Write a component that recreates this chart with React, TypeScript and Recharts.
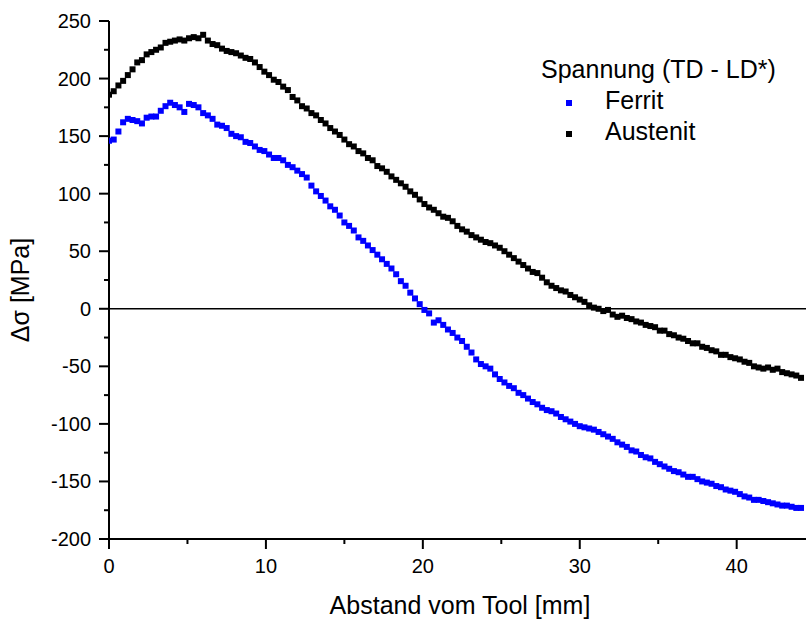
import { ReferenceLine, Scatter, ScatterChart, XAxis, YAxis } from 'recharts';

// Messpunkte alle 0,3 mm ab 0 mm
const abstandSchritt = 0.3;

const ferrit = [
  146, 147, 154, 162, 165, 164, 163, 161, 166, 167,
  167, 172, 176, 179, 177, 175, 171, 178, 177, 175,
  170, 168, 165, 160, 159, 157, 152, 150, 149, 145,
  144, 141, 138, 137, 134, 131, 131, 129, 125, 123,
  120, 117, 114, 107, 102, 98, 94, 89, 86, 81,
  75, 72, 68, 62, 59, 55, 51, 47, 43, 39,
  35, 30, 24, 20, 14, 9, 4, -1, -4, -12,
  -10, -14, -18, -21, -25, -28, -33, -38, -44, -48,
  -50, -52, -57, -61, -64, -67, -69, -73, -75, -78,
  -81, -83, -86, -88, -89, -91, -94, -96, -98, -100,
  -102, -103, -104, -105, -107, -109, -111, -113, -116, -118,
  -120, -123, -124, -127, -129, -130, -133, -135, -137, -139,
  -141, -142, -144, -146, -146, -148, -150, -151, -152, -154,
  -155, -157, -158, -159, -161, -163, -164, -166, -166, -167,
  -168, -169, -170, -171, -171, -172, -173, -173,
];

const austenit = [
  186, 189, 194, 198, 203, 208, 214, 216, 221, 223,
  225, 227, 231, 232, 233, 234, 233, 235, 236, 235,
  238, 233, 230, 229, 226, 224, 223, 222, 220, 218,
  217, 214, 210, 206, 203, 199, 197, 193, 190, 184,
  181, 176, 174, 170, 168, 164, 161, 157, 154, 151,
  147, 143, 141, 137, 135, 131, 129, 124, 122, 119,
  115, 112, 109, 106, 102, 99, 95, 91, 88, 86,
  83, 80, 79, 76, 72, 69, 67, 64, 62, 60,
  58, 57, 55, 53, 50, 47, 44, 41, 38, 35,
  32, 31, 27, 23, 20, 18, 16, 15, 12, 10,
  8, 6, 3, 1, 0, -2, -1, -5, -7, -6,
  -8, -9, -11, -12, -14, -15, -16, -19, -19, -22,
  -23, -25, -26, -28, -30, -30, -33, -34, -36, -37,
  -40, -40, -42, -43, -44, -46, -47, -50, -51, -52,
  -51, -53, -52, -55, -56, -57, -58, -60,
];

const xTicks = [0, 5, 10, 15, 20, 25, 30, 35, 40];
const xLabels = [0, 10, 20, 30, 40];
const yTicks = [-200, -175, -150, -125, -100, -75, -50, -25, 0, 25, 50, 75, 100, 125, 150, 175, 200, 225, 250];
const yLabels = [-200, -150, -100, -50, 0, 50, 100, 150, 200, 250];

const xDomain: [number, number] = [0, 44.8];
const yDomain: [number, number] = [-200, 250];

const FONT = '"Liberation Sans", Arial, sans-serif';

const toPoints = (values: number[]) =>
  values.map((v, i) => ({ abstand: +(i * abstandSchritt).toFixed(1), spannung: v }));

const ferritData = toPoints(ferrit);
const austenitData = toPoints(austenit);

function LeftTick({ x, y, payload }: any) {
  const major = yLabels.includes(payload.value);
  return (
    <g>
      <line x1={x - (major ? 10 : 5)} x2={x} y1={y} y2={y} stroke="#000" strokeWidth={2} />
      {major && (
        <text x={x - 18} y={y} dy="0.35em" textAnchor="end" fontSize={20} fontFamily={FONT} fill="#000">
          {payload.value}
        </text>
      )}
    </g>
  );
}

function RightTick({ x, y, payload }: any) {
  const major = yLabels.includes(payload.value);
  return <line x1={x} x2={x - (major ? 10 : 5)} y1={y} y2={y} stroke="#000" strokeWidth={2} />;
}

function BottomTick({ x, y, payload }: any) {
  const major = xLabels.includes(payload.value);
  return (
    <g>
      <line x1={x} x2={x} y1={y} y2={y + (major ? 10 : 5)} stroke="#000" strokeWidth={2} />
      {major && (
        <text x={x} y={y + 34} textAnchor="middle" fontSize={20} fontFamily={FONT} fill="#000">
          {payload.value}
        </text>
      )}
    </g>
  );
}

function TopTick({ x, y, payload }: any) {
  const major = xLabels.includes(payload.value);
  return <line x1={x} x2={x} y1={y} y2={y + (major ? 10 : 5)} stroke="#000" strokeWidth={2} />;
}

const square = (color: string) => (props: any) =>
  <rect x={props.cx - 3} y={props.cy - 3} width={6} height={6} fill={color} />;

export default function App() {
  return (
    <div style={{ position: 'relative', width: 806, height: 621, overflow: 'hidden', background: '#fff' }}>
      <style>{'body{margin:0}'}</style>
      <ScatterChart width={812} height={621} margin={{ top: 21, right: 0, bottom: 0, left: 0 }}>
        <XAxis
          dataKey="abstand"
          type="number"
          domain={xDomain}
          ticks={xTicks}
          interval={0}
          allowDataOverflow
          height={82}
          tickSize={0}
          tickMargin={0}
          tickLine={false}
          tick={<BottomTick />}
          axisLine={{ stroke: '#000', strokeWidth: 2 }}
          label={{
            value: 'Abstand vom Tool [mm]',
            content: () => (
              <text x={460} y={614} textAnchor="middle" fontSize={25} fontFamily={FONT} fill="#000">
                Abstand vom Tool [mm]
              </text>
            ),
          }}
        />
        <XAxis
          xAxisId="top"
          orientation="top"
          type="number"
          domain={xDomain}
          ticks={xTicks}
          interval={0}
          allowDataOverflow
          height={0}
          tickSize={0}
          tickMargin={0}
          tickLine={false}
          tick={<TopTick />}
          axisLine={{ stroke: '#000', strokeWidth: 2 }}
        />
        <YAxis
          dataKey="spannung"
          type="number"
          domain={yDomain}
          ticks={yTicks}
          interval={0}
          allowDataOverflow
          width={109}
          tickSize={0}
          tickMargin={0}
          tickLine={false}
          tick={<LeftTick />}
          axisLine={{ stroke: '#000', strokeWidth: 2 }}
          label={{
            value: 'Δσ [MPa]',
            content: () => (
              <text
                transform="translate(29,290) rotate(-90)"
                textAnchor="middle"
                fontSize={25}
                fontFamily={FONT}
                fill="#000"
              >
                Δσ [MPa]
              </text>
            ),
          }}
        />
        <YAxis
          yAxisId="right"
          orientation="right"
          type="number"
          domain={yDomain}
          ticks={yTicks}
          interval={0}
          allowDataOverflow
          width={0}
          tickSize={0}
          tickMargin={0}
          tickLine={false}
          tick={<RightTick />}
          axisLine={{ stroke: '#000', strokeWidth: 2 }}
        />
        <ReferenceLine y={0} stroke="#000" strokeWidth={1.5} />
        <Scatter name="Austenit" data={austenitData} shape={square('#000000')} isAnimationActive={false} />
        <Scatter name="Ferrit" data={ferritData} shape={square('#0000ff')} isAnimationActive={false} />
      </ScatterChart>
      <div
        style={{
          position: 'absolute',
          left: 541,
          top: 54,
          fontFamily: FONT,
          fontSize: 25,
          lineHeight: '31px',
          color: '#000',
          whiteSpace: 'nowrap',
        }}
      >
        <div>Spannung (TD - LD*)</div>
        {[
          { name: 'Ferrit', color: '#0000ff' },
          { name: 'Austenit', color: '#000000' },
        ].map((item) => (
          <div key={item.name} style={{ position: 'relative', paddingLeft: 64 }}>
            <span
              style={{
                position: 'absolute',
                left: 25,
                top: 15,
                width: 6,
                height: 6,
                background: item.color,
              }}
            />
            {item.name}
          </div>
        ))}
      </div>
    </div>
  );
}
